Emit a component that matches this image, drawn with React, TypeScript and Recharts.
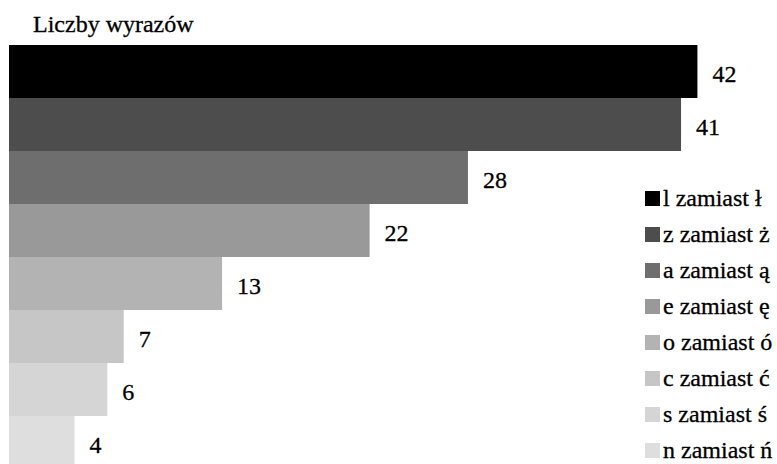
import { FC } from 'react';
import { BarChart, Bar, XAxis, YAxis, Cell, LabelList } from 'recharts';

const categories = [
    'l zamiast ł',
    'z zamiast ż',
    'a zamiast ą',
    'e zamiast ę',
    'o zamiast ó',
    'c zamiast ć',
    's zamiast ś',
    'n zamiast ń',
];
const counts = [42, 41, 28, 22, 13, 7, 6, 4];
const colors = ['#000000', '#4d4d4d', '#6e6e6e', '#999999', '#b3b3b3', '#c6c6c6', '#d5d5d5', '#dedede'];

const data = categories.map((name, i) => ({ name, value: counts[i] }));

const FONT = 'Liberation Serif';

const App: FC = () => {
    return (
        <div style={{ position: 'absolute', left: 0, top: 0, width: 777, height: 464, overflow: 'hidden', background: '#fff' }}>
            <div
                style={{
                    position: 'absolute',
                    left: 33,
                    top: 12,
                    fontFamily: FONT,
                    fontSize: 24,
                    lineHeight: '24px',
                    whiteSpace: 'nowrap',
                    WebkitTextStroke: '0.3px #000',
                }}
            >
                Liczby wyrazów
            </div>
            <BarChart
                width={777}
                height={470}
                data={data}
                layout="vertical"
                barCategoryGap={0}
                margin={{ top: 45, right: 14, bottom: 1, left: 9 }}
            >
                <XAxis type="number" domain={[0, 46]} hide />
                <YAxis type="category" dataKey="name" hide />
                <Bar dataKey="value" isAnimationActive={false}>
                    {data.map((d, i) => (
                        <Cell key={d.name} fill={colors[i]} />
                    ))}
                    <LabelList
                        dataKey="value"
                        position="right"
                        offset={15}
                        fill="#000"
                        stroke="#000"
                        strokeWidth={0.3}
                        dy={2}
                        style={{ fontFamily: FONT, fontSize: 24 }}
                    />
                </Bar>
            </BarChart>
            {/* legenda: osobny kolor dla każdej kategorii */}
            <div
                style={{
                    position: 'absolute',
                    left: 645,
                    top: 180,
                    fontFamily: FONT,
                    fontSize: 24,
                    color: '#000',
                    WebkitTextStroke: '0.3px #000',
                }}
            >
                {categories.map((c, i) => (
                    <div key={c} style={{ display: 'flex', alignItems: 'center', height: 36, whiteSpace: 'nowrap' }}>
                        <span style={{ display: 'inline-block', width: 15, height: 15, background: colors[i], marginRight: 3 }} />
                        <span>{c}</span>
                    </div>
                ))}
            </div>
        </div>
    );
};

export default App;
